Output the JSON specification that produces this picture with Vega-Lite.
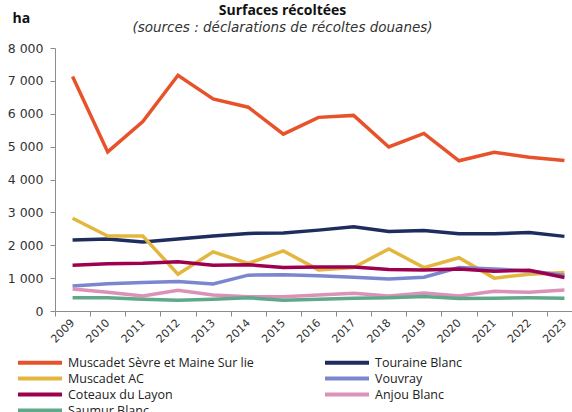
{
  "$schema": "https://vega.github.io/schema/vega-lite/v6.json",
  "autosize": {"type": "none"},
  "width": 517,
  "height": 263,
  "padding": {"left": 55, "top": 48, "right": 0, "bottom": 101},
  "background": "white",
  "config": {
    "font": "Open Sans",
    "view": {"stroke": null},
    "axis": {"grid": false, "domainColor": "#8c8c8c", "tickColor": "#8c8c8c", "labelColor": "#333333", "labelFont": "DejaVu Sans"}
  },
  "title": {
    "text": "Surfaces récoltées",
    "subtitle": "(sources : déclarations de récoltes douanes)",
    "anchor": "middle",
    "frame": "group",
    "dx": -31,
    "dy": 35,
    "offset": 12,
    "fontSize": 14,
    "fontWeight": "bold",
    "color": "#111111",
    "subtitleFont": "DejaVu Sans",
    "subtitleFontSize": 13.5,
    "subtitleFontStyle": "italic",
    "subtitleColor": "#333333",
    "subtitlePadding": 3
  },
  "data": {
    "values": [
      {"year": "2009", "series": "Muscadet Sèvre et Maine Sur lie", "value": 7130},
      {"year": "2010", "series": "Muscadet Sèvre et Maine Sur lie", "value": 4840},
      {"year": "2011", "series": "Muscadet Sèvre et Maine Sur lie", "value": 5760},
      {"year": "2012", "series": "Muscadet Sèvre et Maine Sur lie", "value": 7170},
      {"year": "2013", "series": "Muscadet Sèvre et Maine Sur lie", "value": 6450},
      {"year": "2014", "series": "Muscadet Sèvre et Maine Sur lie", "value": 6200},
      {"year": "2015", "series": "Muscadet Sèvre et Maine Sur lie", "value": 5380},
      {"year": "2016", "series": "Muscadet Sèvre et Maine Sur lie", "value": 5890},
      {"year": "2017", "series": "Muscadet Sèvre et Maine Sur lie", "value": 5950},
      {"year": "2018", "series": "Muscadet Sèvre et Maine Sur lie", "value": 4990},
      {"year": "2019", "series": "Muscadet Sèvre et Maine Sur lie", "value": 5400},
      {"year": "2020", "series": "Muscadet Sèvre et Maine Sur lie", "value": 4570},
      {"year": "2021", "series": "Muscadet Sèvre et Maine Sur lie", "value": 4830},
      {"year": "2022", "series": "Muscadet Sèvre et Maine Sur lie", "value": 4680},
      {"year": "2023", "series": "Muscadet Sèvre et Maine Sur lie", "value": 4580},
      {"year": "2009", "series": "Touraine Blanc", "value": 2160},
      {"year": "2010", "series": "Touraine Blanc", "value": 2190},
      {"year": "2011", "series": "Touraine Blanc", "value": 2100},
      {"year": "2012", "series": "Touraine Blanc", "value": 2190},
      {"year": "2013", "series": "Touraine Blanc", "value": 2280},
      {"year": "2014", "series": "Touraine Blanc", "value": 2360},
      {"year": "2015", "series": "Touraine Blanc", "value": 2370},
      {"year": "2016", "series": "Touraine Blanc", "value": 2460},
      {"year": "2017", "series": "Touraine Blanc", "value": 2560},
      {"year": "2018", "series": "Touraine Blanc", "value": 2420},
      {"year": "2019", "series": "Touraine Blanc", "value": 2450},
      {"year": "2020", "series": "Touraine Blanc", "value": 2350},
      {"year": "2021", "series": "Touraine Blanc", "value": 2350},
      {"year": "2022", "series": "Touraine Blanc", "value": 2390},
      {"year": "2023", "series": "Touraine Blanc", "value": 2270},
      {"year": "2009", "series": "Muscadet AC", "value": 2820},
      {"year": "2010", "series": "Muscadet AC", "value": 2280},
      {"year": "2011", "series": "Muscadet AC", "value": 2280},
      {"year": "2012", "series": "Muscadet AC", "value": 1120},
      {"year": "2013", "series": "Muscadet AC", "value": 1800},
      {"year": "2014", "series": "Muscadet AC", "value": 1450},
      {"year": "2015", "series": "Muscadet AC", "value": 1830},
      {"year": "2016", "series": "Muscadet AC", "value": 1250},
      {"year": "2017", "series": "Muscadet AC", "value": 1320},
      {"year": "2018", "series": "Muscadet AC", "value": 1890},
      {"year": "2019", "series": "Muscadet AC", "value": 1320},
      {"year": "2020", "series": "Muscadet AC", "value": 1620},
      {"year": "2021", "series": "Muscadet AC", "value": 1000},
      {"year": "2022", "series": "Muscadet AC", "value": 1120},
      {"year": "2023", "series": "Muscadet AC", "value": 1170},
      {"year": "2009", "series": "Vouvray", "value": 760},
      {"year": "2010", "series": "Vouvray", "value": 830},
      {"year": "2011", "series": "Vouvray", "value": 870},
      {"year": "2012", "series": "Vouvray", "value": 900},
      {"year": "2013", "series": "Vouvray", "value": 820},
      {"year": "2014", "series": "Vouvray", "value": 1090},
      {"year": "2015", "series": "Vouvray", "value": 1100},
      {"year": "2016", "series": "Vouvray", "value": 1070},
      {"year": "2017", "series": "Vouvray", "value": 1030},
      {"year": "2018", "series": "Vouvray", "value": 970},
      {"year": "2019", "series": "Vouvray", "value": 1030},
      {"year": "2020", "series": "Vouvray", "value": 1320},
      {"year": "2021", "series": "Vouvray", "value": 1280},
      {"year": "2022", "series": "Vouvray", "value": 1220},
      {"year": "2023", "series": "Vouvray", "value": 1090},
      {"year": "2009", "series": "Coteaux du Layon", "value": 1390},
      {"year": "2010", "series": "Coteaux du Layon", "value": 1440},
      {"year": "2011", "series": "Coteaux du Layon", "value": 1450},
      {"year": "2012", "series": "Coteaux du Layon", "value": 1500},
      {"year": "2013", "series": "Coteaux du Layon", "value": 1390},
      {"year": "2014", "series": "Coteaux du Layon", "value": 1410},
      {"year": "2015", "series": "Coteaux du Layon", "value": 1320},
      {"year": "2016", "series": "Coteaux du Layon", "value": 1340},
      {"year": "2017", "series": "Coteaux du Layon", "value": 1340},
      {"year": "2018", "series": "Coteaux du Layon", "value": 1260},
      {"year": "2019", "series": "Coteaux du Layon", "value": 1250},
      {"year": "2020", "series": "Coteaux du Layon", "value": 1280},
      {"year": "2021", "series": "Coteaux du Layon", "value": 1210},
      {"year": "2022", "series": "Coteaux du Layon", "value": 1240},
      {"year": "2023", "series": "Coteaux du Layon", "value": 1020},
      {"year": "2009", "series": "Anjou Blanc", "value": 670},
      {"year": "2010", "series": "Anjou Blanc", "value": 570},
      {"year": "2011", "series": "Anjou Blanc", "value": 460},
      {"year": "2012", "series": "Anjou Blanc", "value": 630},
      {"year": "2013", "series": "Anjou Blanc", "value": 490},
      {"year": "2014", "series": "Anjou Blanc", "value": 430},
      {"year": "2015", "series": "Anjou Blanc", "value": 430},
      {"year": "2016", "series": "Anjou Blanc", "value": 490},
      {"year": "2017", "series": "Anjou Blanc", "value": 540},
      {"year": "2018", "series": "Anjou Blanc", "value": 460},
      {"year": "2019", "series": "Anjou Blanc", "value": 550},
      {"year": "2020", "series": "Anjou Blanc", "value": 460},
      {"year": "2021", "series": "Anjou Blanc", "value": 600},
      {"year": "2022", "series": "Anjou Blanc", "value": 570},
      {"year": "2023", "series": "Anjou Blanc", "value": 640},
      {"year": "2009", "series": "Saumur Blanc", "value": 400},
      {"year": "2010", "series": "Saumur Blanc", "value": 400},
      {"year": "2011", "series": "Saumur Blanc", "value": 360},
      {"year": "2012", "series": "Saumur Blanc", "value": 330},
      {"year": "2013", "series": "Saumur Blanc", "value": 360},
      {"year": "2014", "series": "Saumur Blanc", "value": 400},
      {"year": "2015", "series": "Saumur Blanc", "value": 330},
      {"year": "2016", "series": "Saumur Blanc", "value": 360},
      {"year": "2017", "series": "Saumur Blanc", "value": 390},
      {"year": "2018", "series": "Saumur Blanc", "value": 400},
      {"year": "2019", "series": "Saumur Blanc", "value": 440},
      {"year": "2020", "series": "Saumur Blanc", "value": 380},
      {"year": "2021", "series": "Saumur Blanc", "value": 390},
      {"year": "2022", "series": "Saumur Blanc", "value": 400},
      {"year": "2023", "series": "Saumur Blanc", "value": 390}
    ]
  },
  "mark": {"type": "line", "strokeWidth": 3.5, "clip": false},
  "encoding": {
    "x": {
      "field": "year",
      "type": "ordinal",
      "scale": {"type": "band", "range": [0, 527], "paddingInner": 0, "paddingOuter": 0},
      "axis": {
        "title": null,
        "tickBand": "extent",
        "labelAngle": -45,
        "labelAlign": "right",
        "labelBaseline": "middle",
        "labelFontSize": 11,
        "labelPadding": 5,
        "tickSize": 5
      }
    },
    "y": {
      "field": "value",
      "type": "quantitative",
      "scale": {"domain": [0, 8000], "nice": false},
      "axis": {
        "values": [0, 1000, 2000, 3000, 4000, 5000, 6000, 7000, 8000],
        "labelExpr": "replace(format(datum.value, ','), ',', ' ')",
        "labelFontSize": 12.5,
        "labelPadding": 7,
        "tickSize": 5,
        "title": "ha",
        "titleFont": "Open Sans",
        "titleAngle": 0,
        "titleX": -43,
        "titleY": -26,
        "titleAlign": "left",
        "titleBaseline": "alphabetic",
        "titleFontSize": 14,
        "titleFontWeight": "bold",
        "titleColor": "#111111"
      }
    },
    "color": {
      "field": "series",
      "type": "nominal",
      "sort": null,
      "scale": {
        "domain": ["Muscadet Sèvre et Maine Sur lie", "Muscadet AC", "Coteaux du Layon", "Saumur Blanc", "Touraine Blanc", "Vouvray", "Anjou Blanc"],
        "range": ["#E8522A", "#E3B73F", "#9E0050", "#5FA98A", "#1F2C5E", "#7B86CE", "#DB91B8"]
      },
      "legend": {
        "orient": "none",
        "legendX": -22.5,
        "legendY": 307,
        "columns": 2,
        "title": null,
        "symbolType": "M-4,0H4",
        "symbolSize": 121,
        "symbolStrokeWidth": 4,
        "labelFontSize": 12.5,
        "labelColor": "#222222",
        "labelOffset": 20.5,
        "labelLimit": 400,
        "rowPadding": -1,
        "columnPadding": 62
      }
    }
  }
}
